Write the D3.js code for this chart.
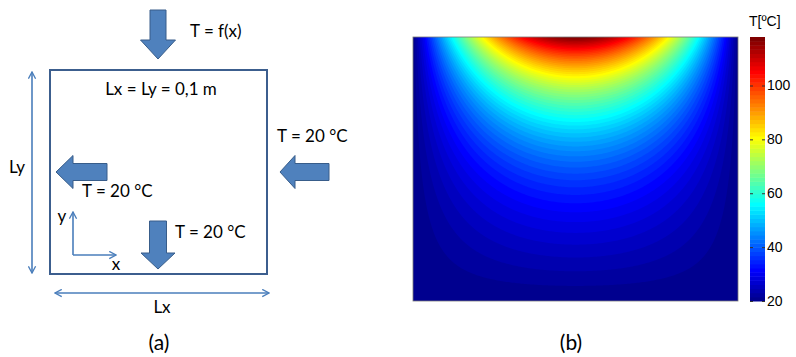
<!DOCTYPE html>
<html>
<head>
<meta charset="utf-8">
<script src="https://cdn.jsdelivr.net/npm/d3@7"></script>
<style>
  html, body { margin: 0; padding: 0; background: #fff; }
  svg { display: block; }
</style>
</head>
<body>
<svg id="fig" width="796" height="357"></svg>
<script>
// ---- Plate and boundary conditions ----
const plateSize = 0.1;          // Lx = Ly = 0.1 m
const edgeTemp = 20;            // °C on the left, right and bottom edges
// Temperature imposed along the top edge, T = f(x)
const topX = [0, 0.005, 0.01, 0.015, 0.02, 0.025, 0.03, 0.035, 0.04, 0.045, 0.05,
              0.055, 0.06, 0.065, 0.07, 0.075, 0.08, 0.085, 0.09, 0.095, 0.1];
const topT = [20, 35.3, 50.3, 64.5, 77.6, 89.3, 99.3, 107.3, 113.2, 116.8, 118,
              116.8, 113.2, 107.3, 99.3, 89.3, 77.6, 64.5, 50.3, 35.3, 20];
// Colour bar
const colorDomain = [20, 118];
const colorTicks = [20, 40, 60, 80, 100];
const colorLevels = 64;

// MATLAB-style jet colormap with m entries
function jet(m) {
  const n = Math.ceil(m / 4);
  const u = [...d3.range(1, n + 1).map(i => i / n), ...Array(n - 1).fill(1),
             ...d3.range(n, 0, -1).map(i => i / n)];
  const g0 = Math.ceil(n / 2) - (m % 4 === 1 ? 1 : 0);
  const J = Array.from({length: m}, () => [0, 0, 0]);
  u.forEach((v, k) => {
    const g = g0 + k + 1, r = g + n, b = g - n;
    if (g >= 1 && g <= m) J[g - 1][1] = v;
    if (r >= 1 && r <= m) J[r - 1][0] = v;
    if (b >= 1 && b <= m) J[b - 1][2] = v;
  });
  return J.map(c => d3.rgb(c[0] * 255, c[1] * 255, c[2] * 255).formatHex());
}
const jetColors = jet(colorLevels);

const svg = d3.select("#fig");
const blueFill = "#4f81bd", blueEdge = "#385d8a", thinBlue = "#4a7ebb";
const diagFont = "Lato, 'Open Sans', sans-serif";

// ================= (a) problem sketch =================
const defs = svg.append("defs");
defs.append("marker")
  .attr("id", "chev").attr("viewBox", "0 0 10 10")
  .attr("refX", 9).attr("refY", 5)
  .attr("markerWidth", 9).attr("markerHeight", 9)
  .attr("markerUnits", "userSpaceOnUse")
  .attr("orient", "auto-start-reverse")
  .append("path").attr("d", "M1.5,1 L9,5 L1.5,9")
  .attr("fill", "none").attr("stroke", thinBlue).attr("stroke-width", 1.5);

const sketch = svg.append("g");

// block arrow: tip point, direction ('down'|'left'), total length, head length, shaft & head widths
function blockArrow(tx, ty, dir, len, head, sw, hw) {
  const pts = [[0, 0], [-hw / 2, -head], [-sw / 2, -head], [-sw / 2, -len],
               [sw / 2, -len], [sw / 2, -head], [hw / 2, -head]];
  const rot = dir === "down" ? p => [tx + p[0], ty + p[1]] : p => [tx - p[1], ty + p[0]];
  sketch.append("polygon")
    .attr("points", pts.map(rot).map(p => p.join(",")).join(" "))
    .attr("fill", blueFill).attr("stroke", blueEdge).attr("stroke-width", 1);
}

// plate outline
sketch.append("rect").attr("x", 50).attr("y", 70).attr("width", 217).attr("height", 204)
  .attr("fill", "none").attr("stroke", "#3c5e8e").attr("stroke-width", 2);

blockArrow(158, 59, "down", 49, 19, 16, 35);
blockArrow(158, 269, "down", 48, 16, 17, 34);
blockArrow(56, 172, "left", 51, 17, 17, 33);
blockArrow(280, 172, "left", 49, 15, 17, 33);

// dimension arrows
sketch.append("line").attr("x1", 32).attr("y1", 72).attr("x2", 32).attr("y2", 273)
  .attr("stroke", thinBlue).attr("stroke-width", 1.6)
  .attr("marker-start", "url(#chev)").attr("marker-end", "url(#chev)");
sketch.append("line").attr("x1", 55).attr("y1", 293).attr("x2", 269).attr("y2", 293)
  .attr("stroke", thinBlue).attr("stroke-width", 1.6)
  .attr("marker-start", "url(#chev)").attr("marker-end", "url(#chev)");
// coordinate axes
sketch.append("line").attr("x1", 73).attr("y1", 255).attr("x2", 73).attr("y2", 212)
  .attr("stroke", thinBlue).attr("stroke-width", 1.6).attr("marker-end", "url(#chev)");
sketch.append("line").attr("x1", 73).attr("y1", 255).attr("x2", 116).attr("y2", 255)
  .attr("stroke", thinBlue).attr("stroke-width", 1.6).attr("marker-end", "url(#chev)");

const labels = [
  {t: "T = f(x)", x: 190, y: 37, a: "start"},
  {t: "Lx = Ly = 0,1 m", x: 161, y: 95, a: "middle"},
  {t: "T = 20 °C", x: 277, y: 142, a: "start"},
  {t: "T = 20 °C", x: 82, y: 197, a: "start"},
  {t: "T = 20 °C", x: 175, y: 238, a: "start"},
  {t: "Ly", x: 17, y: 173, a: "middle"},
  {t: "Lx", x: 162, y: 313, a: "middle"},
  {t: "y", x: 62, y: 222, a: "middle"},
  {t: "x", x: 116, y: 270, a: "middle"}
];
sketch.selectAll("text.lbl").data(labels).join("text")
  .attr("class", "lbl")
  .attr("x", d => d.x).attr("y", d => d.y)
  .attr("text-anchor", d => d.a)
  .attr("font-family", diagFont).attr("font-size", 17).attr("fill", "#000")
  .text(d => d.t);

svg.append("text").attr("x", 159).attr("y", 350).attr("text-anchor", "middle")
  .attr("font-family", diagFont).attr("font-size", 21).text("(a)");
svg.append("text").attr("x", 571).attr("y", 350).attr("text-anchor", "middle")
  .attr("font-family", diagFont).attr("font-size", 21).text("(b)");

// ================= (b) temperature field =================
const plot = {x0: 413, x1: 738, y0: 37, y1: 301};
const color = d3.scaleQuantize().domain(colorDomain).range(jetColors);

// Steady conduction (Laplace) solution: sine series fitted to the top-edge temperatures
const N = topX.length - 1;
const coef = d3.range(1, N).map(n =>
  (2 / N) * d3.sum(d3.range(1, N), k => (topT[k] - edgeTemp) * Math.sin(n * Math.PI * k / N)));
function temperature(x, y) {
  let s = edgeTemp;
  for (let n = 1; n < N; n++) {
    const a = n * Math.PI / plateSize;
    s += coef[n - 1] * Math.sin(a * x) * Math.sinh(a * y) / Math.sinh(a * plateSize);
  }
  return s;
}

const nx = 217, ny = 176;
const values = new Float64Array(nx * ny);
for (let j = 0; j < ny; j++) {
  const y = plateSize * (1 - (j + 0.5) / ny);
  for (let i = 0; i < nx; i++) {
    values[j * nx + i] = temperature(plateSize * (i + 0.5) / nx, y);
  }
}
const step = (colorDomain[1] - colorDomain[0]) / colorLevels;
const thresholds = d3.range(colorLevels).map(k => colorDomain[0] + k * step);
const bands = d3.contours().size([nx, ny]).thresholds(thresholds)(values);

const field = svg.append("g");
field.append("rect").attr("x", plot.x0).attr("y", plot.y0)
  .attr("width", plot.x1 - plot.x0).attr("height", plot.y1 - plot.y0)
  .attr("fill", jetColors[0]);
const sx = (plot.x1 - plot.x0) / nx, sy = (plot.y1 - plot.y0) / ny;
field.append("g")
  .attr("transform", `translate(${plot.x0},${plot.y0}) scale(${sx},${sy})`)
  .selectAll("path").data(bands).join("path")
  .attr("d", d3.geoPath())
  .attr("fill", d => color(d.value + step / 2));
field.append("rect").attr("x", plot.x0).attr("y", plot.y0)
  .attr("width", plot.x1 - plot.x0).attr("height", plot.y1 - plot.y0)
  .attr("fill", "none").attr("stroke", "#7a7a7a").attr("stroke-width", 0.8);

// colour bar
const cb = {x0: 750, x1: 765};
const cy = d3.scaleLinear().domain(colorDomain).range([plot.y1, plot.y0]);
svg.append("g").selectAll("rect").data(thresholds).join("rect")
  .attr("x", cb.x0).attr("width", cb.x1 - cb.x0)
  .attr("y", d => cy(d + step))
  .attr("height", d => cy(d) - cy(d + step) + 0.5)
  .attr("fill", d => color(d + step / 2));

const axR = svg.append("g").attr("transform", `translate(${cb.x1},0)`)
  .call(d3.axisRight(cy).tickValues(colorTicks).tickSizeInner(-3).tickSizeOuter(0).tickPadding(2));
axR.select(".domain").remove();
axR.selectAll("line").attr("stroke", "#333");
axR.selectAll("text").attr("font-family", "'Liberation Sans', Arial, sans-serif")
  .attr("font-size", 14).attr("fill", "#000");
const axL = svg.append("g").attr("transform", `translate(${cb.x0},0)`)
  .call(d3.axisLeft(cy).tickValues(colorTicks).tickSizeInner(-3).tickSizeOuter(0).tickFormat(""));
axL.select(".domain").remove();
axL.selectAll("line").attr("stroke", "#333");

svg.append("text").attr("x", 749).attr("y", 26)
  .attr("font-family", "'Liberation Sans', Arial, sans-serif").attr("font-size", 14)
  .text("T[ºC]");
</script>
</body>
</html>
